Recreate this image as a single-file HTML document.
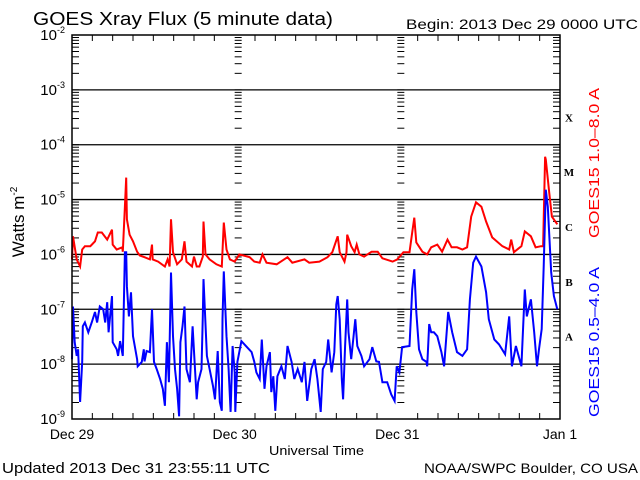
<!DOCTYPE html>
<html><head><meta charset="utf-8"><style>
html,body{margin:0;padding:0;background:#fff;}
svg{display:block;font-family:"Liberation Sans","DejaVu Sans",sans-serif;}
</style></head><body>
<svg id="chart" width="640" height="480" viewBox="0 0 640 480">
<rect width="640" height="480" fill="#fff"/>
<text x="33" y="25" font-size="18" textLength="300" lengthAdjust="spacingAndGlyphs">GOES Xray Flux (5 minute data)</text>
<text x="406" y="29" font-size="14" textLength="232" lengthAdjust="spacingAndGlyphs">Begin:  2013 Dec 29 0000 UTC</text>
<text transform="translate(24,222) rotate(-90)" text-anchor="middle" font-size="17">Watts m<tspan font-size="10" dy="-7">-2</tspan></text>
<text x="269" y="455" font-size="13" textLength="95" lengthAdjust="spacingAndGlyphs">Universal Time</text>
<text x="2" y="473" font-size="15" textLength="268" lengthAdjust="spacingAndGlyphs">Updated 2013 Dec 31 23:55:11 UTC</text>
<text x="424" y="473" font-size="14" textLength="214" lengthAdjust="spacingAndGlyphs">NOAA/SWPC Boulder, CO USA</text>
<text transform="translate(599,238) rotate(-90)" font-size="15" textLength="150" lengthAdjust="spacingAndGlyphs" fill="#ff0000">GOES15 1.0–8.0 A</text>
<text transform="translate(599,417) rotate(-90)" font-size="15" textLength="150" lengthAdjust="spacingAndGlyphs" fill="#0000ff">GOES15 0.5–4.0 A</text>
<g id="axes"></g>
<g id="series"></g>
<rect x="72" y="35" width="488" height="384" fill="none" stroke="#000" stroke-width="1.5"/>
</svg>
<script>
const decades = [-2,-3,-4,-5,-6,-7,-8,-9];
const dayLabels = ["Dec 29","Dec 30","Dec 31","Jan 1"];
const classLabels = ["X","M","C","B","A"];
const classDecades = [-3.5,-4.5,-5.5,-6.5,-7.5];
const longHours = [0,0.15,0.7,1.2,1.5,1.9,2.7,3.4,3.8,4.4,5.2,5.9,6.0,6.6,7.4,7.5,7.8,8.0,8.1,8.5,9.0,9.6,10.0,10.7,11.5,11.8,11.9,12.7,13.7,14.1,14.4,14.6,14.9,15.5,16.2,16.6,16.9,17.7,18.0,18.4,18.8,19.3,19.4,19.7,20.3,21.3,22.1,22.4,22.8,23.3,24.0,24.7,26.2,26.9,27.7,28.1,28.7,30.2,31.8,32.5,34.3,35.0,36.5,37.7,38.4,39.2,39.5,40.2,40.5,40.6,41.2,41.7,42.0,42.4,43.1,44.2,45.1,45.8,47.3,48.0,48.9,49.8,50.2,50.5,50.8,51.7,52.4,53.0,53.9,54.6,55.4,56.0,56.8,57.6,58.3,58.9,59.6,60.4,61.1,62.0,63.5,64.5,64.8,65.2,66.3,66.8,67.7,68.4,69.2,69.5,69.8,69.9,70.4,70.8,71.6];
const longFlux = [-6.09,-5.67,-6.09,-6.22,-5.91,-5.85,-5.85,-5.76,-5.60,-5.60,-5.73,-5.55,-5.82,-5.91,-5.87,-5.95,-5.13,-4.60,-5.36,-5.64,-5.76,-5.95,-6.02,-6.05,-6.09,-5.82,-6.09,-6.13,-6.22,-6.09,-6.22,-5.36,-5.96,-6.18,-6.09,-5.76,-6.13,-6.22,-6.04,-6.22,-6.22,-6.04,-5.40,-6.00,-6.09,-6.18,-6.22,-5.42,-5.91,-6.09,-6.13,-6.00,-6.05,-6.13,-6.15,-6.00,-6.15,-6.18,-6.05,-6.15,-6.09,-6.15,-6.13,-6.05,-5.96,-5.67,-5.96,-6.13,-5.96,-5.64,-5.85,-5.96,-5.82,-6.00,-6.04,-5.95,-5.95,-6.07,-6.13,-6.09,-5.96,-5.96,-5.60,-5.33,-5.78,-5.95,-6.00,-5.87,-5.82,-5.95,-5.73,-5.87,-5.87,-5.91,-5.87,-5.31,-5.05,-5.13,-5.40,-5.69,-5.85,-5.91,-5.73,-5.96,-5.85,-5.58,-5.67,-5.87,-5.85,-5.85,-4.22,-4.27,-4.87,-5.31,-5.45];
const shortHours = [0,0.15,0.4,0.7,0.9,1.2,1.5,1.6,1.9,2.4,2.9,3.4,3.7,4.1,4.6,4.9,5.2,5.4,5.9,6.0,6.6,6.8,7.1,7.5,7.8,8.0,8.1,8.4,8.7,9.0,9.6,9.7,10.3,10.6,10.7,11.0,11.5,11.8,12.1,12.5,13.0,13.4,13.7,14.0,14.3,14.6,14.9,15.2,15.5,15.8,16.0,16.3,16.6,16.9,17.4,17.8,18.4,18.6,19.1,19.3,19.4,19.9,20.3,20.8,21.1,21.5,21.8,22.1,22.2,22.4,22.8,23.1,23.4,23.7,24.0,24.1,24.4,25.0,25.8,26.5,26.9,27.2,27.7,28.0,28.4,28.7,29.2,29.4,29.7,30.0,30.3,30.9,31.4,31.8,32.4,32.8,33.3,33.9,34.3,34.7,35.3,35.8,36.2,36.7,37.0,37.5,37.8,38.3,38.7,39.0,39.2,39.5,39.8,40.0,40.3,40.6,40.8,41.2,41.8,42.1,42.7,43.1,43.9,44.3,44.9,45.3,45.8,46.5,47.1,47.6,47.9,48.3,48.7,49.8,50.2,50.5,50.8,51.2,51.7,52.3,52.4,52.7,53.0,53.4,53.9,54.5,54.9,55.5,56.1,56.8,57.6,58.3,58.7,59.2,59.6,60.4,61.1,61.5,62.3,63.0,63.9,64.5,64.9,65.5,66.3,66.8,67.1,67.7,68.2,68.6,68.9,69.3,69.6,69.9,70.2,70.7,71.1,71.6];
const shortFlux = [-7.91,-6.95,-7.60,-7.85,-7.73,-8.69,-7.96,-7.31,-7.24,-7.42,-7.24,-7.05,-7.24,-6.95,-7.00,-7.24,-6.87,-7.42,-6.76,-7.60,-7.73,-7.85,-7.58,-7.85,-5.96,-5.96,-6.58,-7.13,-6.69,-7.49,-7.91,-8.04,-7.96,-7.73,-7.95,-7.76,-7.78,-7.00,-7.96,-8.09,-8.27,-8.45,-8.76,-7.60,-8.33,-6.33,-7.49,-8.09,-8.45,-8.95,-7.60,-7.31,-6.95,-8.09,-8.33,-7.31,-8.64,-8.33,-8.09,-7.13,-6.45,-7.85,-8.09,-8.40,-8.64,-7.76,-8.69,-8.85,-7.18,-6.31,-7.49,-8.09,-8.87,-7.67,-8.15,-8.87,-7.96,-7.58,-7.69,-7.78,-7.96,-8.15,-8.27,-7.55,-8.45,-8.04,-7.78,-8.51,-8.22,-8.85,-8.22,-8.04,-8.27,-7.67,-7.96,-8.27,-8.09,-8.33,-7.96,-8.67,-8.09,-7.91,-8.27,-8.87,-8.09,-7.96,-7.55,-8.15,-7.78,-6.91,-6.76,-7.18,-8.27,-8.64,-7.67,-6.82,-7.42,-7.91,-7.18,-7.67,-7.85,-8.04,-7.91,-7.69,-7.95,-7.96,-8.33,-8.33,-8.55,-8.67,-8.04,-8.15,-7.69,-7.67,-6.64,-6.27,-7.05,-7.73,-7.91,-7.96,-8.04,-7.27,-7.42,-7.42,-7.49,-7.78,-8.04,-7.05,-7.42,-7.78,-7.85,-7.73,-6.82,-6.15,-6.04,-6.22,-6.69,-7.18,-7.55,-7.64,-7.82,-7.13,-8.04,-7.67,-8.04,-6.64,-7.13,-6.82,-7.42,-8.04,-7.73,-7.36,-6.22,-4.82,-5.13,-6.33,-6.76,-7.00];

const NS="http://www.w3.org/2000/svg";
const L=72,R=560,T=35,B=419;
const xS=h=>L+(h/72)*(R-L);
const yS=v=>T+(-2-v)*((B-T)/7);
const axes=document.getElementById('axes');
const series=document.getElementById('series');
function mk(tag,attrs,parent){const e=document.createElementNS(NS,tag);for(const k in attrs)e.setAttribute(k,attrs[k]);parent.appendChild(e);return e;}

decades.forEach(d=>{
  const y=yS(d);
  if(d<-2&&d>-9){const g=mk('line',{x1:L,x2:R,y1:y,y2:y,stroke:'#000','stroke-width':1.3},axes);
    
    }
  const t=mk('text',{x:65,y:y+5,'text-anchor':'end','font-size':15},axes);
  
  
  t.textContent='10';
  const s=mk('tspan',{'font-size':9,dy:-7},t);s.textContent=String(d);
  if(d>-9){
    for(let m=1;m<=9;m++){
      const yy=yS(d-1+Math.log10(m));
      [L,xS(24),xS(48)].forEach(x0=>{
        const tk=mk('line',{x1:x0,x2:x0+7,y1:yy,y2:yy,stroke:'#000','stroke-width':1},axes);
        
        
      });
      const tr=mk('line',{x1:R-(m===1?10:7),x2:R,y1:yy,y2:yy,stroke:'#000','stroke-width':1},axes);
      
      
    }
  }
});
for(let h=0;h<=72;h+=3){
  const x=xS(h);
  const len=(h%24===0)?0:6;
  if(len){
    const a=mk('line',{x1:x,x2:x,y1:B,y2:B-len,stroke:'#000'},axes);
    
    
    const b=mk('line',{x1:x,x2:x,y1:T,y2:T+len,stroke:'#000'},axes);
    
    
  }
}
dayLabels.forEach((lab,i)=>{
  const t=mk('text',{x:xS(i*24),y:439,'text-anchor':'middle','font-size':14},axes);
  
  
  t.textContent=lab;
});
classLabels.forEach((c,i)=>{
  const t=mk('text',{x:569,y:yS(classDecades[i])+4,'text-anchor':'middle','font-size':11,'font-weight':'bold','font-family':'Liberation Serif, serif'},axes);
  
  
  t.textContent=c;
});
function draw(hours,vals,color,name){
  let d='';
  hours.forEach((h,i)=>{d+=(i?'L':'M')+xS(h).toFixed(1)+','+yS(vals[i]).toFixed(1);});
  const p=mk('path',{d:d,fill:'none',stroke:color,'stroke-width':2,'stroke-linejoin':'miter'},series);
  
  
}
draw(longHours,longFlux,'#ff0000','series-long-channel');
draw(shortHours,shortFlux,'#0000ff','series-short-channel');
</script>
</body></html>
